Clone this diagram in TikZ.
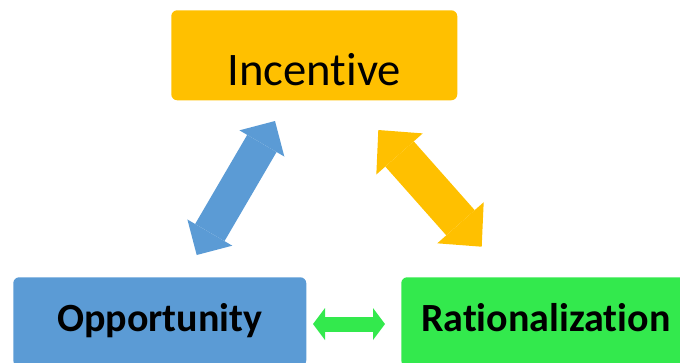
\documentclass[tikz,border=0pt]{standalone}
\usepackage{fontspec}
\setmainfont{Carlito}[Ligatures=CommonOff]
\usetikzlibrary{arrows.meta}
\definecolor{incyellow}{RGB}{255,192,0}
\definecolor{oppblue}{RGB}{91,155,213}
\definecolor{ratgreen}{RGB}{51,233,77}
\tikzset{
	box/.style={rounded corners=4.5pt, inner sep=0pt, anchor=north west, align=center},
	dblarrow/.style n args={3}{line width=#1, arrows={Triangle[width=#2,length=#3,line width=0pt]-Triangle[width=#2,length=#3,line width=0pt]}}
}

\begin{document}
\begin{tikzpicture}[x=0.75pt,y=0.75pt,yscale=-1,xscale=1]
		\useasboundingbox (0,0) rectangle (680,362);
		\clip (0,0) rectangle (680,362);
		% the three boxes
		\node [box, fill=incyellow, minimum width=214.5pt, text height=56.25pt, text depth=11.25pt, font=\fontsize{35}{40}\selectfont] (inc) at (171,10) {Incentive};
		\node [box, fill=oppblue, minimum width=219.75pt, text height=40.5pt, text depth=26.25pt, font=\fontsize{30}{36}\selectfont\bfseries] (opp) at (13,277) {Opportunity};
		\node [box, fill=ratgreen, minimum width=216.75pt, text height=40.5pt, text depth=26.25pt, font=\fontsize{30}{36}\selectfont\bfseries] (rat) at (401,277) {Rationalization};
		% arrow ends
		\coordinate (oi1) at (196.7,255);
		\coordinate (oi2) at (275,121);
		\coordinate (ir1) at (378.3,130);
		\coordinate (ir2) at (481.7,246.7);
		\coordinate (or1) at (313,324);
		\coordinate (or2) at (385,324);
		\draw [oppblue, dblarrow={25.5pt}{39pt}{19.5pt}] (oi1) -- (oi2) ;
		\draw [incyellow, dblarrow={28.5pt}{46.5pt}{24pt}] (ir1) -- (ir2) ;
		\draw [ratgreen, dblarrow={11.25pt}{24pt}{9pt}] (or1) -- (or2) ;
\end{tikzpicture}
\end{document}
